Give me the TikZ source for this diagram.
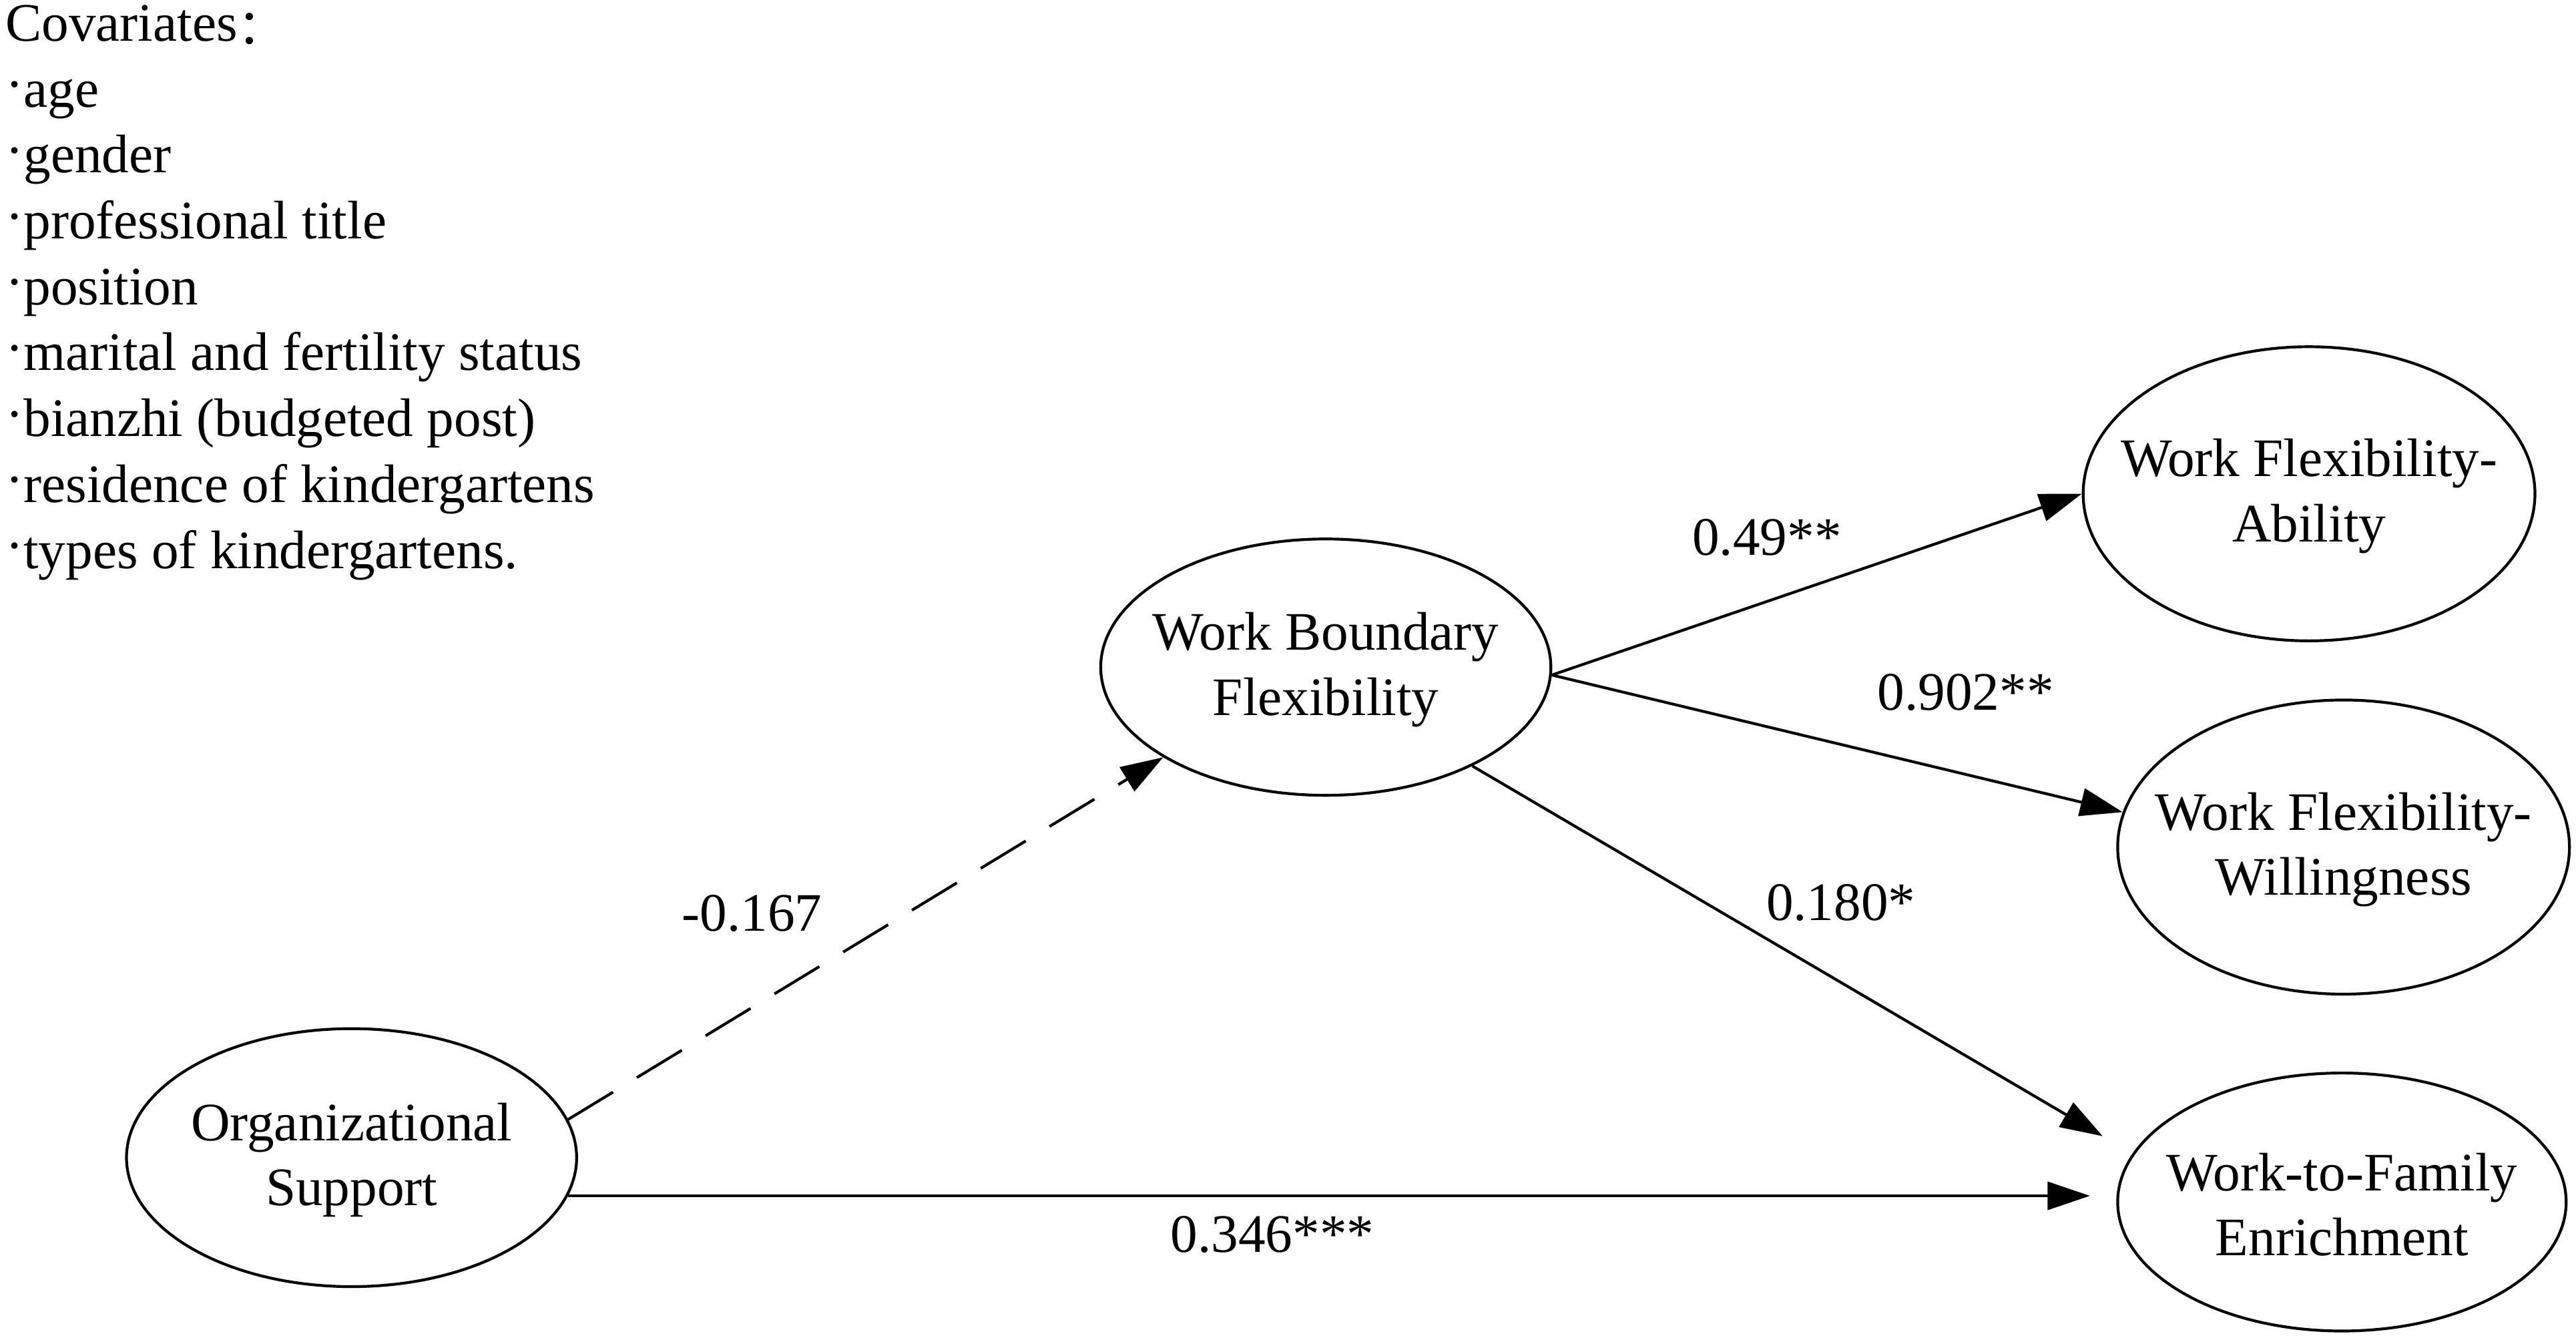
\documentclass[tikz,border=0pt]{standalone}
\usepackage{fontspec}
\setmainfont{Liberation Serif}
\newfontfamily\cjkfont{Noto Sans CJK SC}
\usetikzlibrary{arrows.meta,shapes.geometric}
\newcommand{\covbul}{\raisebox{0.08em}{·}}
\begin{document}
\begin{tikzpicture}[x=0.5pt,y=-0.5pt,
  latent/.style={ellipse,draw,line width=0.85pt,inner sep=0pt},
  txt/.style={font=\fontsize{16.5}{19.8}\selectfont,inner sep=0pt},
  ntxt/.style={txt,align=center},
  cov/.style={txt,anchor=base west},
  coef/.style={txt,anchor=base},
  pathline/.style={line width=0.85pt,-{Triangle[length=12.9pt,width=8.5pt]}},
]
\useasboundingbox (0,0) rectangle (1568,814);

% covariates list
\node[cov] (cov0) at (3,25) {Covariates\smash{\raisebox{-0.06em}{\cjkfont\fontsize{15}{18}\selectfont ：}}};
\foreach \t [count=\i] in {age,gender,professional title,position,marital and fertility status,{bianzhi (budgeted post)},residence of kindergartens,types of kindergartens.}
  \node[cov] (cov\i) at (3,25+40.1*\i) {\covbul\t};

% latent variables
\node[latent,minimum width=137pt,minimum height=78.5pt] (org) at (214,704.5) {};
\node[latent,minimum width=137pt,minimum height=78pt] (wbf) at (807,406) {};
\node[latent,minimum width=137.5pt,minimum height=89.5pt] (wfa) at (1405.5,300.5) {};
\node[latent,minimum width=137.5pt,minimum height=89.5pt] (wfw) at (1426.5,515.5) {};
\node[latent,minimum width=136.5pt,minimum height=78.5pt] (wfe) at (1425.5,731.5) {};

\node[ntxt] (orgT) at ([yshift=-0.75pt]org.center) {Organizational\\Support};
\node[ntxt] (wbfT) at ([yshift=-0.75pt]wbf.center) {Work Boundary\\Flexibility};
\node[ntxt] (wfaT) at ([yshift=-0.75pt]wfa.center) {Work Flexibility-\\Ability};
\node[ntxt] (wfwT) at ([yshift=-0.75pt]wfw.center) {Work Flexibility-\\Willingness};
\node[ntxt] (wfeT) at ([yshift=-0.75pt]wfe.center) {Work-to-Family\\Enrichment};

% paths
\draw[pathline,dash pattern=on 16pt off 8.5pt] (org.10) -- (wbf.209);
\draw[pathline] (wbf.-2) -- (wfa.west);
\draw[pathline] (wbf.-2) -- (wfw.171);
\draw[pathline,shorten >=10.5pt] (wbf.-34) -- (wfe.167);
\draw[pathline,shorten >=8pt] (org.-10) -- (org.-10 -| wfe.west);

% coefficients
\node[coef] (c1) at (457.8,566.7) {-0.167};
\node[coef] (c2) at (1075.5,338) {0.49**};
\node[coef] (c3) at (1196.5,432) {0.902**};
\node[coef] (c4) at (1120.5,560) {0.180*};
\node[coef] (c5) at (774.5,762) {0.346***};
\end{tikzpicture}
\end{document}
